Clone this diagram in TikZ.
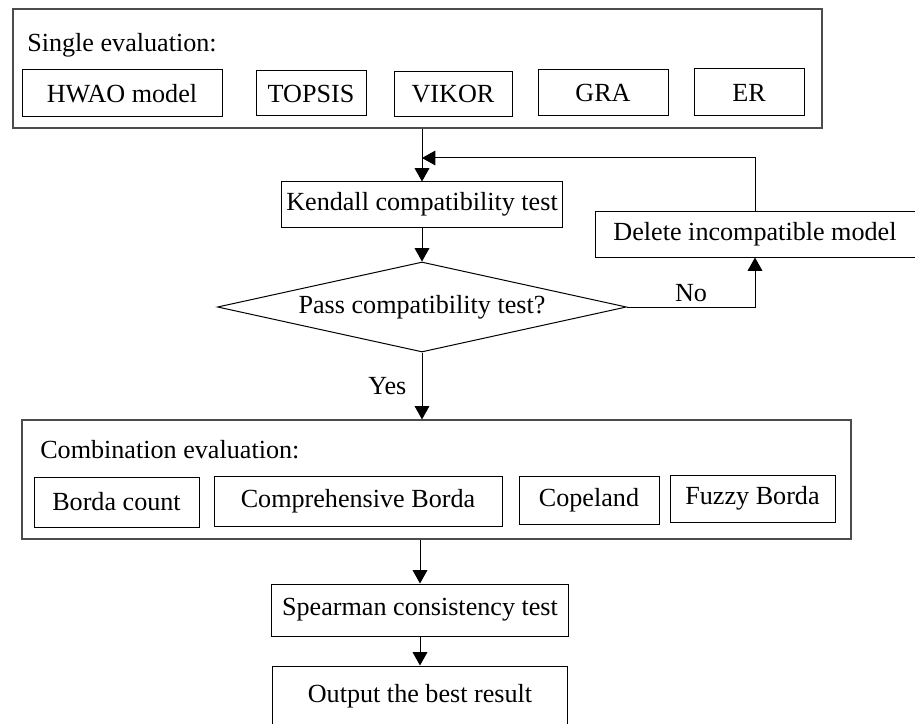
\documentclass[tikz,border=0pt]{standalone}
\usepackage{fontspec}
\setmainfont{Liberation Serif}
\usetikzlibrary{shapes.geometric,arrows.meta,positioning}

\begin{document}
\begin{tikzpicture}[x=0.75pt, y=-0.75pt,
    every node/.style={font=\fontsize{19.6}{23}\selectfont},
    box/.style={draw, line width=0.75pt, inner sep=0pt},
    frame/.style={draw=black!70, line width=0.9pt, inner sep=0pt},
    boxsize/.style 2 args={minimum width=#1*0.75pt, minimum height=#2*0.75pt},
    arr/.style={line width=0.75pt, -{Triangle[width=11pt,length=10pt]}}]
  \useasboundingbox (0,0) rectangle (915,724);

  % Single evaluation
  \node[frame, boxsize={809}{119}] (single) at (417.5,68.5) {};
  \node[anchor=west, inner sep=0pt] (singletitle) at (27,45) {Single evaluation:};
  \node[box, boxsize={200}{47}] (hwao) at (122,93.5) {HWAO model};
  \node[box, boxsize={110}{45}] (topsis) at (311,93.5) {TOPSIS};
  \node[box, boxsize={118}{45}] (vikor) at (453,94.5) {VIKOR};
  \node[box, boxsize={130}{46}] (gra) at (603,93) {GRA};
  \node[box, boxsize={110}{47}] (er) at (749,92.5) {ER};

  % Compatibility check
  \node[box, boxsize={281}{45}] (kendall) at (422,204.5) {Kendall compatibility test};
  \node[box, boxsize={320}{46}] (delete) at (755,234) {Delete incompatible model};
  \node[draw, diamond, aspect=4.5, inner sep=0pt, line width=0.75pt,
        boxsize={409}{90}] (pass) at (422,307) {Pass compatibility test?};
  \coordinate (back) at (422,158);

  % Combination evaluation
  \node[frame, boxsize={829}{119}] (comb) at (436.5,479.5) {};
  \node[anchor=west, inner sep=0pt] (combtitle) at (40,450) {Combination evaluation:};
  \node[box, boxsize={165}{50}] (borda) at (116.5,502) {Borda count};
  \node[box, boxsize={288}{50}] (compborda) at (358,501) {Comprehensive Borda};
  \node[box, boxsize={140}{48}] (copeland) at (589,500) {Copeland};
  \node[box, boxsize={165}{47}] (fuzzy) at (752.5,498.5) {Fuzzy Borda};

  \node[box, boxsize={297}{52}] (spearman) at (420,610) {Spearman consistency test};
  \node[box, boxsize={295}{60}] (output) at (420,696) {Output the best result};

  % connectors
  \draw[arr] (single.south -| kendall.north) -- (kendall.north);
  \draw[arr] (delete.north) |- (back);
  \draw[arr] (kendall) -- (pass);
  \draw[arr] (pass.east) -| (delete.south) node[pos=0.25, above] {No};
  \draw[arr] (pass.south) -- (pass.south |- comb.north) node[midway, left=8pt] {Yes};
  \draw[arr] (comb.south -| spearman.north) -- (spearman.north);
  \draw[arr] (spearman) -- (output);
\end{tikzpicture}
\end{document}
